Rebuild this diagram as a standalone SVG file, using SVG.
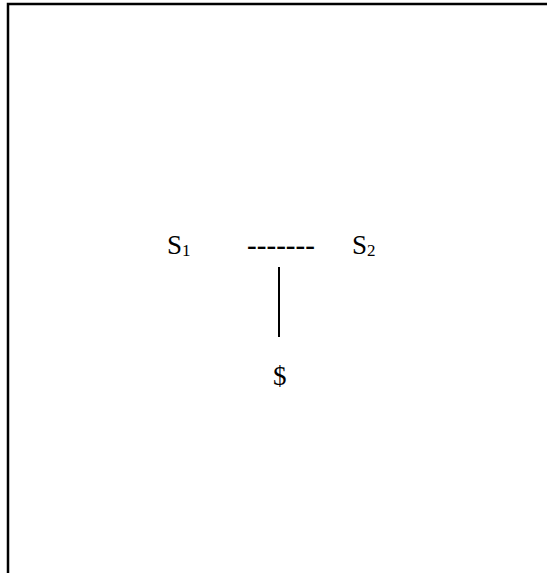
<svg xmlns="http://www.w3.org/2000/svg" width="547" height="573" viewBox="0 0 547 573">
<style>
.t{font-family:"Liberation Serif","DejaVu Serif",serif;font-size:27px;fill:#000}
.sub{font-size:17px}
</style>
<rect x="0" y="0" width="547" height="573" fill="#fff"/>
<rect x="8" y="4" width="560" height="600" fill="none" stroke="#000" stroke-width="2.5"/>
<g id="s1"><text class="t" x="167" y="254">S<tspan class="sub" dy="2">1</tspan></text></g>
<g id="s2"><text class="t" x="352" y="254">S<tspan class="sub" dy="2">2</tspan></text></g>
<g id="dollar"><text class="t" x="273" y="385">$</text></g>
<g id="connectors">
<text class="t" x="247" y="254" textLength="68" lengthAdjust="spacingAndGlyphs" style="font-weight:bold">-------</text>
<line x1="279" y1="267" x2="279" y2="337" stroke="#000" stroke-width="2"/>
</g>
</svg>
